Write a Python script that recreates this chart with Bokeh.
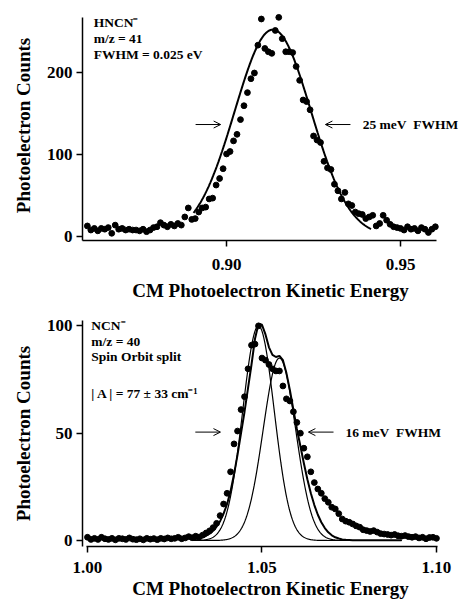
import numpy as np
from bokeh.plotting import figure
from bokeh.layouts import column
from bokeh.models import FixedTicker, Label, Arrow, OpenHead
from bokeh.embed import file_html
from bokeh.resources import INLINE

# ---------------- data: top panel (HNCN-) ----------------
top_energy_start = 0.860
top_energy_step = 0.001
top_counts = [13, 8, 10, 7, 10, 9, 11, 4, 14, 9,
              10, 8, 9, 8, 8, 7, 9, 6, 8, 11,
              12, 17, 14, 12, 15, 13, 16, 14, 24, 35,
              21, 22, 30, 35, 36, 46, 47, 63, 71, 83,
              101, 104, 117, 125, 143, 160, 176, 193, 200, 234,
              266, 230, 226, 224, 252, 268, 242, 226, 226, 225,
              208, 191, 167, 165, 155, 123, 118, 115, 92, 84,
              82, 64, 56, 46, 54, 40, 38, 30, 28, 27,
              22, 24, 26, 13, 16, 26, 20, 15, 12, 11,
              10, 8, 12, 9, 10, 7, 11, 9, 5, 9, 12]
top_fit_center = 0.9133
top_fit_amplitude = 253.0
top_fit_fwhm = 0.0258
top_fit_from, top_fit_to = 0.8905, 0.9415
top_x_ticks = [0.90, 0.95]
top_x_labels = ["0.90", "0.95"]
top_y_ticks = [0, 100, 200]
top_y_labels = ["0", "100", "200"]

# ---------------- data: bottom panel (NCN-) ----------------
bot_energy_start = 1.000
bot_energy_step = 0.001
bot_counts = [1.5, 0.5, 1.0, 0.5, 1.5, 0.8, 0.5, 1.0, 0.3, 1.0,
              0.8, 0.5, 1.2, 0.6, 0.4, 0.8, 0.3, 1.0, 0.6, 0.9,
              0.4, 1.0, 0.7, 1.2, 0.8, 1.0, 1.5, 0.8, 1.2, 1.8,
              1.3, 2.0, 1.6, 2.5, 3.5, 4.5, 6.0, 8.0, 11.6, 17,
              22, 32, 45, 51, 61, 67, 80, 91, 91.5, 100,
              85, 84, 82, 80, 79, 79, 72, 66, 65, 60,
              55, 50, 43, 39, 32, 27, 24, 22, 19.5, 17.8,
              15.5, 14.7, 12.5, 10, 9, 8.5, 7.7, 6.8, 6.2, 5.0,
              4.6, 4.2, 4.6, 3.9, 3.2, 3.0, 2.8, 2.5, 2.8, 2.2,
              2.0, 2.3, 1.8, 1.5, 1.8, 1.2, 1.5, 0.8, 1.4, 1.5, 1.0]
# envelope fit, 1.030 .. 1.090 step 0.001
env_start = 1.030
env_step = 0.001
env_counts = [0.5, 0.7, 1.0, 1.5, 2.2, 3.2, 4.5, 6.5, 9, 12.5,
              17, 23, 31, 40, 50, 60, 71, 82, 94, 101,
              100.5, 96, 90, 86.5, 85.5, 86, 84, 78, 70, 61,
              52, 44, 36, 28.5, 22, 16.5, 12, 8.5, 5.8, 3.8,
              2.4, 1.5, 0.9, 0.5, 0.3, 0.2, 0.1, 0.1, 0.1, 0.1,
              0.1, 0.1, 0.1, 0.1, 0.1, 0.1, 0.1, 0.1, 0.1, 0.1, 0.1]
comp1_center, comp1_amplitude, comp1_fwhm = 1.0490, 100.0, 0.0106
comp2_center, comp2_amplitude, comp2_fwhm = 1.0550, 85.0, 0.0110
comp_from, comp_to = 1.030, 1.090
bot_x_ticks = [1.00, 1.05, 1.10]
bot_x_labels = ["1.00", "1.05", "1.10"]
bot_y_ticks = [0, 50, 100]
bot_y_labels = ["0", "50", "100"]

FONT = "Liberation Serif"
NB = "\u00a0"


def gauss(x, c, a, fwhm):
    s = fwhm / 2.3548
    return a * np.exp(-0.5 * ((x - c) / s) ** 2)


def style(p, xt, xl, yt, yl, xb, yb, s1, s2):
    p.xgrid.visible = False
    p.ygrid.visible = False
    p.outline_line_color = None
    p.background_fill_color = "white"
    p.border_fill_color = "white"
    p.xaxis.ticker = FixedTicker(ticks=xt)
    p.yaxis.ticker = FixedTicker(ticks=yt)
    p.xaxis.major_label_overrides = {t: l for t, l in zip(xt, xl)}
    p.yaxis.major_label_overrides = {t: l for t, l in zip(yt, yl)}
    p.xaxis.bounds = xb
    p.yaxis.bounds = yb
    for ax in (p.xaxis, p.yaxis):
        ax.axis_line_width = 1.5
        ax.axis_line_color = "black"
        ax.major_tick_line_width = 1.5
        ax.major_tick_out = 6
        ax.major_tick_in = 0
        ax.minor_tick_out = 0
        ax.minor_tick_in = 0
        ax.major_label_text_font = FONT
        ax.major_label_text_font_style = "bold"
        ax.major_label_text_font_size = "17px"
        ax.major_label_text_color = "black"
        ax.axis_label_text_font = FONT
        ax.axis_label_text_font_style = "bold"
        ax.axis_label_text_font_size = "19px"
        ax.axis_label_text_color = "black"
    p.xaxis.major_label_standoff = s1
    p.xaxis.axis_label_standoff = s2
    p.yaxis.major_label_standoff = 4
    p.yaxis.axis_label_standoff = 10
    p.xaxis.axis_label = "CM Photoelectron Kinetic Energy"
    p.yaxis.axis_label = "Photoelectron Counts"


def label(p, x, y, txt, size="13.5px", align="left"):
    p.add_layout(Label(x=x, y=y, text=txt, text_font=FONT, text_font_style="bold",
                       text_font_size=size, text_baseline="middle", text_align=align,
                       text_color="black"))


def arrow(p, x0, x1, y):
    p.add_layout(Arrow(x_start=x0, y_start=y, x_end=x1, y_end=y, line_width=1,
                       end=OpenHead(size=7, line_width=1)))


# ---------------- top figure ----------------
p1 = figure(width=460, height=303, x_range=(0.8586, 0.96665), y_range=(-4.8, 276.4),
            output_backend="svg", toolbar_location=None,
            min_border_left=82, min_border_right=2, min_border_top=10, min_border_bottom=61)
style(p1, top_x_ticks, top_x_labels, top_y_ticks, top_y_labels,
      (0.8586, 0.9603), (-4.8, 268), 12, 7)
tx = top_energy_start + top_energy_step * np.arange(len(top_counts))
fx = np.linspace(top_fit_from, top_fit_to, 300)
p1.line(fx, gauss(fx, top_fit_center, top_fit_amplitude, top_fit_fwhm), line_color="black", line_width=2)
p1.scatter(tx, top_counts, size=5.8, color="black")
label(p1, 0.8618, 262, "HNCN\u207b")
label(p1, 0.8618, 242, "m/z = 41")
label(p1, 0.8618, 223, "FWHM = 0.025 eV")
arrow(p1, 0.8911, 0.8983, 137)
arrow(p1, 0.9356, 0.9284, 137)
label(p1, 0.9391, 137, "25 meV" + NB + NB + "FWHM")

# ---------------- bottom figure ----------------
p2 = figure(width=460, height=298, x_range=(0.99857, 1.10631), y_range=(-2.8, 102.5),
            output_backend="svg", toolbar_location=None,
            min_border_left=82, min_border_right=2, min_border_top=17, min_border_bottom=55)
style(p2, bot_x_ticks, bot_x_labels, bot_y_ticks, bot_y_labels,
      (0.9997, 1.1003), (-2.8, 102.5), 9, 2)
bx = bot_energy_start + bot_energy_step * np.arange(len(bot_counts))
ex = env_start + env_step * np.arange(len(env_counts))
cx = np.linspace(comp_from, comp_to, 400)
p2.line(cx, gauss(cx, comp1_center, comp1_amplitude, comp1_fwhm), line_color="black", line_width=1.2)
p2.line(cx, gauss(cx, comp2_center, comp2_amplitude, comp2_fwhm), line_color="black", line_width=1.2)
p2.line(ex, env_counts, line_color="black", line_width=2)
p2.scatter(bx, bot_counts, size=5.8, color="black")
label(p2, 1.0011, 100, "NCN\u207b")
label(p2, 1.0011, 92.6, "m/z = 40")
label(p2, 1.0011, 85.6, "Spin Orbit split")
label(p2, 1.0011, 68.4, "| A | = 77 \u00b1 33 cm\u207b\u00b9")
arrow(p2, 1.0309, 1.0381, 50.5)
arrow(p2, 1.0705, 1.0633, 50.5)
label(p2, 1.0739, 50.5, "16 meV" + NB + NB + "FWHM")

layout = column(p1, p2)
open("out.html", "w").write(file_html(layout, INLINE))
